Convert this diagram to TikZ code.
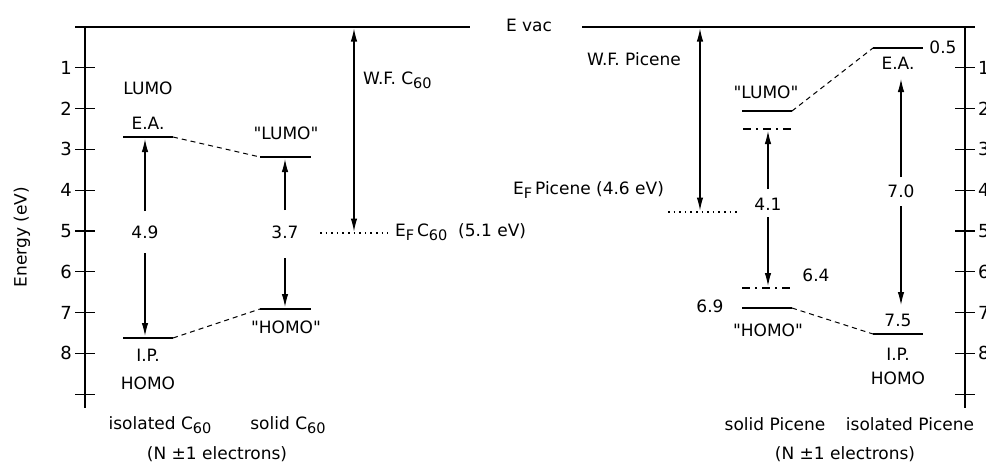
\documentclass[tikz,border=0pt]{standalone}
\usepackage{fontspec}
\setmainfont{DejaVu Sans}[Ligatures=TeXOff]
\usetikzlibrary{arrows.meta}
\newcommand{\lowsub}[1]{\raisebox{-0.4ex}{\fontsize{14.5}{15}\selectfont #1}}
\begin{document}
\begin{tikzpicture}[x=1pt,y=-1pt,
  lvl/.style={line width=2.6pt},
  thinl/.style={line width=1.1pt},
  conn/.style={line width=1pt, dash pattern=on 5pt off 4pt},
  dotl/.style={line width=1.8pt, dash pattern=on 1.6pt off 4pt},
  dashdot/.style={line width=2.6pt, dash pattern=on 8pt off 5pt on 2pt off 5pt},
  arr/.style={line width=1.1pt, -{Latex[length=13pt,width=6.5pt]}},
  darr/.style={line width=1.1pt, {Latex[length=13pt,width=6.5pt]}-{Latex[length=13pt,width=6.5pt]}},
  lbl/.style={font=\fontsize{17}{19}\selectfont, inner sep=0pt},
  tlbl/.style={font=\fontsize{18}{20}\selectfont, inner sep=0pt}
]
\useasboundingbox (0,0) rectangle (986,464);

% axes
\draw[thinl] (85,27) -- (85,408);
\draw[thinl] (965,27) -- (965,408);
\foreach \k in {1,...,9}{
  \draw[thinl] (75,{27+40.8*\k}) -- (95,{27+40.8*\k});
  \draw[thinl] (955,{27+40.8*\k}) -- (975,{27+40.8*\k});
}
\foreach \k in {1,...,8}{
  \node[tlbl, anchor=east] (yl\k) at (72,{27+40.8*\k}) {\k};
  \node[tlbl, anchor=west] (yr\k) at (978,{27+40.8*\k}) {\k};
}
\node[lbl, rotate=90] (ylab) at (22,237) {Energy (eV)};

% vacuum level
\node[lbl] (evac) at (529,25) {E vac};
\coordinate (vacL) at (75,27);
\coordinate (vacR) at (975,27);
\draw[thinl] (vacL) -- (470,27);
\draw[thinl] (582,27) -- (vacR);

% ---------- C60 ----------
\coordinate (eaIa) at (123,137); \coordinate (eaIb) at (173,137);
\coordinate (ipIa) at (123,338); \coordinate (ipIb) at (173,338);
\coordinate (luSa) at (260,157); \coordinate (luSb) at (311,157);
\coordinate (hoSa) at (260,309); \coordinate (hoSb) at (311,309);
\draw[lvl] (eaIa) -- (eaIb);
\draw[lvl] (ipIa) -- (ipIb);
\draw[lvl] (luSa) -- (luSb);
\draw[lvl] (hoSa) -- (hoSb);
\draw[conn] (eaIb) -- (luSa);
\draw[conn] (ipIb) -- (hoSa);

\node[lbl] (lumoI) at (148,88) {LUMO};
\node[lbl] (eaI) at (148,123) {E.A.};
\node[lbl] (n49) at (145,232) {4.9};
\node[lbl] (ipI) at (148,355) {I.P.};
\node[lbl] (homoI) at (148,383) {HOMO};
\node[lbl] (lumoS) at (286,133) {"LUMO"};
\node[lbl] (n37) at (285,232) {3.7};
\node[lbl] (homoS) at (286,327) {"HOMO"};

\coordinate (a1s) at (145,211); \coordinate (a1e) at (145,139);
\coordinate (a2s) at (145,253); \coordinate (a2e) at (145,336);
\coordinate (a3s) at (285,210); \coordinate (a3e) at (285,159);
\coordinate (a4s) at (285,258); \coordinate (a4e) at (285,307);
\draw[arr] (a1s) -- (a1e);
\draw[arr] (a2s) -- (a2e);
\draw[arr] (a3s) -- (a3e);
\draw[arr] (a4s) -- (a4e);

% work function C60
\coordinate (wfCt) at (354,28.5); \coordinate (wfCb) at (354,231.5);
\draw[darr] (wfCt) -- (wfCb);
\coordinate (efCa) at (320,233); \coordinate (efCb) at (388,233);
\draw[dotl] (efCa) -- (efCb);
\node[lbl, anchor=west] (efC) at (395,232) {E\lowsub{F}\,C\lowsub{60}\ \ (5.1 eV)};
\node[lbl, anchor=west] (wfC) at (363,80) {W.F. C\lowsub{60}};

\node[lbl] (isoC) at (160,425) {isolated C\lowsub{60}};
\node[lbl] (solC) at (288,425) {solid C\lowsub{60}};
\node[lbl] (nC) at (217,454) {(N ±1 electrons)};

% ---------- Picene ----------
\coordinate (wfPt) at (700,28.5); \coordinate (wfPb) at (700,210.5);
\draw[darr] (wfPt) -- (wfPb);
\coordinate (efPa) at (668,212); \coordinate (efPb) at (737,212);
\draw[dotl] (efPa) -- (efPb);
\node[lbl] (wfP) at (634,59) {W.F. Picene};
\node[lbl, anchor=west] (efP) at (513,190) {E\lowsub{F}\,Picene (4.6 eV)};

\coordinate (luPa) at (742,111); \coordinate (luPb) at (792,111);
\coordinate (ddUa) at (743,129); \coordinate (ddUb) at (793,129);
\coordinate (ddLa) at (742,288); \coordinate (ddLb) at (792,288);
\coordinate (hoPa) at (742,308); \coordinate (hoPb) at (792,308);
\coordinate (eaPa) at (873,48); \coordinate (eaPb) at (923,48);
\coordinate (ipPa) at (873,334); \coordinate (ipPb) at (923,334);
\draw[lvl] (luPa) -- (luPb);
\draw[dashdot] (ddUa) -- (ddUb);
\draw[dashdot] (ddLa) -- (ddLb);
\draw[lvl] (hoPa) -- (hoPb);
\draw[lvl] (eaPa) -- (eaPb);
\draw[lvl] (ipPa) -- (ipPb);
\draw[conn] (luPb) -- (eaPa);
\draw[conn] (hoPb) -- (ipPa);

\node[lbl] (lumoP) at (766,92) {"LUMO"};
\node[lbl] (n41) at (768,204) {4.1};
\node[lbl] (n64) at (816,275) {6.4};
\node[lbl] (n69) at (710,306) {6.9};
\node[lbl] (homoP) at (768,330) {"HOMO"};
\node[lbl] (n05) at (943,47) {0.5};
\node[lbl] (eaP) at (898,63) {E.A.};
\node[lbl] (n70) at (901,191) {7.0};
\node[lbl] (n75) at (898,320) {7.5};
\node[lbl] (ipP) at (898,354) {I.P.};
\node[lbl] (homoIP) at (898,378) {HOMO};

\coordinate (b1s) at (768,189); \coordinate (b1e) at (768,131);
\coordinate (b2s) at (768,217); \coordinate (b2e) at (768,286);
\coordinate (b3s) at (901,177); \coordinate (b3e) at (901,79);
\coordinate (b4s) at (901,206); \coordinate (b4e) at (901,305);
\draw[arr] (b1s) -- (b1e);
\draw[arr] (b2s) -- (b2e);
\draw[arr] (b3s) -- (b3e);
\draw[arr] (b4s) -- (b4e);

\node[lbl] (solP) at (775,424) {solid Picene};
\node[lbl] (isoP) at (910,424) {isolated Picene};
\node[lbl] (nP) at (845,454) {(N ±1 electrons)};
\end{tikzpicture}
\end{document}
